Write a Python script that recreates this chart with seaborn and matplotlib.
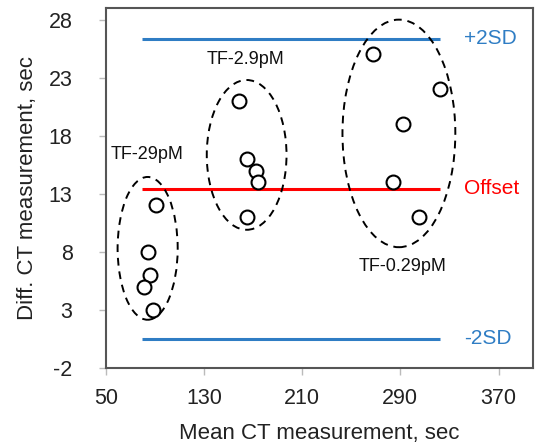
import numpy as np
import pandas as pd
import seaborn as sns
import matplotlib
matplotlib.use("Agg")
from matplotlib import pyplot as plt
from matplotlib.patches import Ellipse

# Bland-Altman style data
group_names = ["TF-29pM", "TF-2.9pM", "TF-0.29pM"]
mean_ct = [
    [90.8, 84.3, 86.2, 80.8, 88.7],
    [158.4, 165.2, 172.5, 174.2, 164.9],
    [267.3, 322.3, 291.8, 284.2, 305.4],
]
diff_ct = [
    [12.0, 8.0, 6.0, 5.0, 3.0],
    [21.0, 16.0, 15.0, 14.0, 11.0],
    [25.0, 22.0, 19.0, 14.0, 11.0],
]

# ellipse centres / extents around each group
ell_cx = [84, 164.7, 288.8]
ell_cy = [8.3, 16.35, 18.2]
ell_w = [49, 65, 92]
ell_h = [12.3, 12.9, 19.6]

# label positions
label_x = [83.8, 163.8, 291.8]
label_y = [16.35, 24.55, 6.7]

offset = 13.45
plus_2sd = 26.36
minus_2sd = 0.53
line_start, line_end = 79, 322.3

x_ticks = [50, 130, 210, 290, 370]
y_ticks = [-2, 3, 8, 13, 18, 23, 28]

df = pd.DataFrame({
    "mean": np.concatenate(mean_ct),
    "diff": np.concatenate(diff_ct),
    "group": np.repeat(group_names, [len(g) for g in mean_ct]),
})

sns.set_style("white", {"xtick.bottom": True, "ytick.left": True})
plt.rcParams["font.family"] = ["Liberation Sans", "DejaVu Sans"]
plt.rcParams["axes.unicode_minus"] = False

fig = plt.figure(figsize=(5.35, 4.46), dpi=100)
ax = fig.add_axes([0.198, 0.175, 0.798, 0.807])

blue = "#2F7DC4"
ax.hlines([plus_2sd, minus_2sd], line_start, line_end, color=blue, lw=2.2, zorder=2)
ax.hlines(offset, line_start, line_end, color="#FF0000", lw=2.2, zorder=2)

sns.scatterplot(data=df, x="mean", y="diff", ax=ax, s=100, facecolor="white",
                edgecolor="black", linewidth=1.5, legend=False, zorder=3)

for cx, cy, w, h in zip(ell_cx, ell_cy, ell_w, ell_h):
    ax.add_patch(Ellipse((cx, cy), w, h, fill=False, ec="black", lw=1.4,
                         ls=(0, (4, 3)), zorder=4))

for name, lx, ly in zip(group_names, label_x, label_y):
    ax.text(lx, ly, name, ha="center", va="center", fontsize=13, color="#111111")

ax.text(342, plus_2sd, "+2SD", ha="left", va="center", fontsize=15, color=blue)
ax.text(342, offset, "Offset", ha="left", va="center", fontsize=15, color="#FF0000")
ax.text(342, minus_2sd, "-2SD", ha="left", va="center", fontsize=15, color=blue)

ax.set_xlim(50, 398)
ax.set_ylim(-2, 29)
ax.set_xticks(x_ticks)
ax.set_yticks(y_ticks)
ax.tick_params(axis="both", labelsize=15.5, labelcolor="#222222", direction="out",
               length=5, width=1, color="#BBBBBB", bottom=True, left=True)
ax.tick_params(axis="x", pad=9.5)
ax.tick_params(axis="y", pad=19)
ax.set_xlabel("Mean CT measurement, sec", fontsize=16, labelpad=10, color="#222222")
ax.set_ylabel("Diff. CT measurement, sec", fontsize=16, labelpad=8, color="#222222")

for side in ["top", "bottom", "left", "right"]:
    ax.spines[side].set_visible(True)
    ax.spines[side].set_color("#555555")
    ax.spines[side].set_linewidth(1.5)

plt.savefig("out.png", dpi=100)
plt.close()
